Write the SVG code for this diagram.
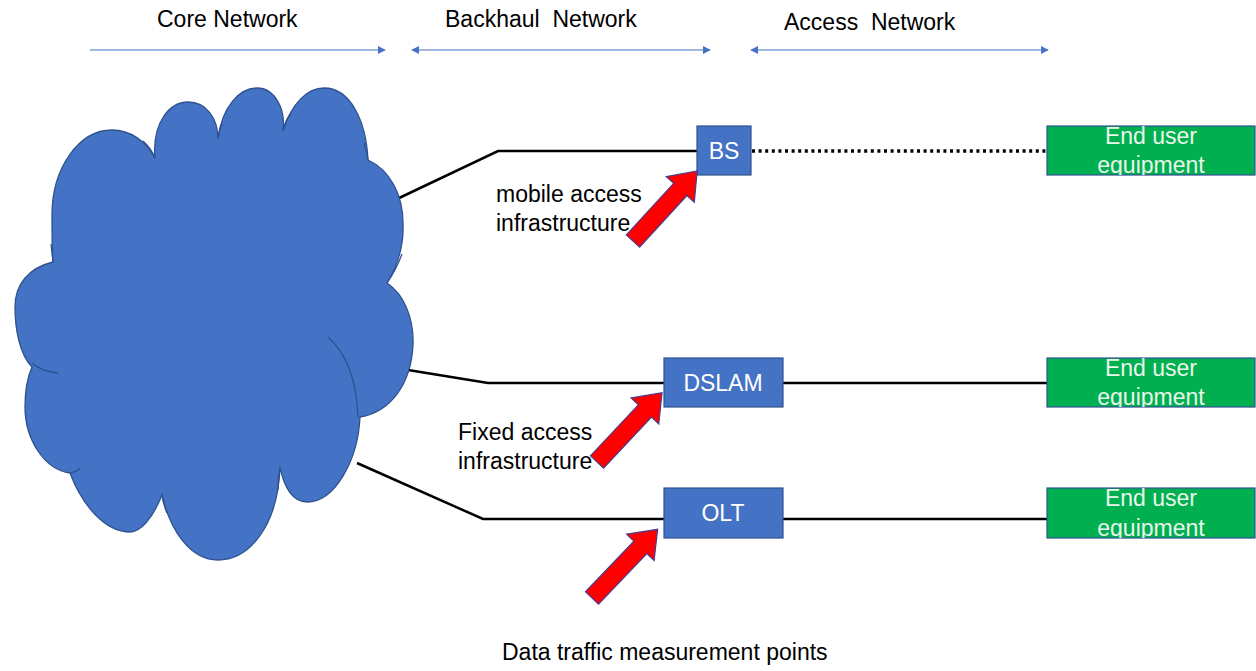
<svg xmlns="http://www.w3.org/2000/svg" width="1256" height="671" viewBox="0 0 1256 671">
  <style>
    text { font-family: "Liberation Sans", Arial, sans-serif; font-size: 23px; fill: #000; }
    .node-blue { fill: #4472C4; stroke: #2F528F; stroke-width: 1.2; }
    .node-green { fill: #00B050; stroke: #2F528F; stroke-width: 1.2; }
    .label-light { fill: #FFFFFF; text-anchor: middle; }
    .label-eq { fill: #EAF6EA; text-anchor: middle; }
    .link { stroke: #000; stroke-width: 2.5; fill: none; }
    .radio { stroke: #000; stroke-width: 3.5; fill: none; stroke-dasharray: 3 3.6; }
    .span { stroke: #4472C4; stroke-width: 1.2; fill: none; }
    .cloud { fill: #4472C4; stroke: #2F528F; stroke-width: 1.3; }
    .fold { fill: none; stroke: #2F528F; stroke-width: 1.3; }
    .probe { fill: #FF0000; stroke: #4A3A8C; stroke-width: 1.2; }
  </style>
  <defs>
    <marker id="tip" viewBox="0 0 10 10" refX="9" refY="5" markerWidth="8" markerHeight="8" markerUnits="userSpaceOnUse" orient="auto-start-reverse">
      <path d="M0,0 L10,5 L0,10 z" fill="#4472C4"/>
    </marker>
    <!-- measurement-point arrow, pointing along +x, tail at origin -->
    <polygon id="probeArrow" points="0,-9 70,-9 70,-19 95,0 70,19 70,9 0,9"/>
    <clipPath id="clipEU1"><rect x="1047" y="126" width="208" height="49"/></clipPath>
    <clipPath id="clipEU2"><rect x="1047" y="358" width="208" height="49"/></clipPath>
    <clipPath id="clipEU3"><rect x="1047" y="488" width="208" height="50"/></clipPath>
  </defs>

  <rect width="1256" height="671" fill="#FFFFFF"/>

  <!-- segment headings and span arrows -->
  <g id="headings">
    <text x="157" y="27">Core Network</text>
    <text x="445" y="27" xml:space="preserve">Backhaul  Network</text>
    <text x="784" y="30" xml:space="preserve">Access  Network</text>
    <line class="span" x1="90" y1="50" x2="385" y2="50" marker-end="url(#tip)"/>
    <line class="span" x1="412" y1="50" x2="710" y2="50" marker-start="url(#tip)" marker-end="url(#tip)"/>
    <line class="span" x1="751" y1="50" x2="1048" y2="50" marker-start="url(#tip)" marker-end="url(#tip)"/>
  </g>

  <!-- links -->
  <g id="connectors">
    <polyline class="link" points="397,199 498,151 697,151"/>
    <line class="radio" x1="752" y1="151" x2="1047" y2="151"/>
    <polyline class="link" points="402,369 488,383 664,383"/>
    <line class="link" x1="783" y1="383" x2="1047" y2="383"/>
    <polyline class="link" points="357,463 483,519 664,519"/>
    <line class="link" x1="783" y1="519" x2="1047" y2="519"/>
  </g>

  <!-- core network cloud -->
  <g id="core-cloud">
    <path class="cloud" d="M53,262
      C52,250 52,230 52,215 C52,168 79,130 112,130 C130,130 146,141 155,158
      C152,122 170,102 188,102 C206,102 218,118 218,139
      C222,106 240,88 257,88 C274,88 286,108 283,131
      C292,102 308,88 324,88 C350,88 366,120 368,160
      C390,170 403,195 403,223 C404,245 398,265 387,283
      C405,295 414,320 413,345 C411,385 390,412 360,417
      C358,460 335,502 307,502 C293,502 284,488 280,467
      C278,525 250,560 218,560 C190,560 170,530 162,495
      C152,520 140,532 130,532 C105,532 82,505 70,473
      C45,470 25,440 25,407 C25,392 27,378 32,367
      C20,355 15,330 15,307 C15,285 28,268 53,262 Z"/>
    <path class="fold" d="M143,141 Q151,148 155,158"/>
    <path class="fold" d="M222,123 Q219,131 218,139"/>
    <path class="fold" d="M291,113 Q285,121 283,131"/>
    <path class="fold" d="M364,143 Q367,151 368,160"/>
    <path class="fold" d="M51,244 Q52,253 53,262"/>
    <path class="fold" d="M402,254 Q396,270 387,283"/>
    <path class="fold" d="M32,363 Q43,372 58,373"/>
    <path class="fold" d="M328,337 Q356,362 358,417"/>
    <path class="fold" d="M70,473 Q76,472 80,468"/>
    <path class="fold" d="M167,513 Q163,504 162,495"/>
    <path class="fold" d="M278,490 Q278,478 280,467"/>
  </g>

  <!-- access nodes -->
  <g id="node-bs">
    <rect class="node-blue" x="697" y="126" width="54" height="49"/>
    <text class="label-light" x="724" y="159">BS</text>
  </g>
  <g id="node-dslam">
    <rect class="node-blue" x="664" y="358" width="119" height="49"/>
    <text class="label-light" x="723" y="391">DSLAM</text>
  </g>
  <g id="node-olt">
    <rect class="node-blue" x="664" y="488" width="119" height="50"/>
    <text class="label-light" x="723" y="521">OLT</text>
  </g>

  <!-- end user equipment -->
  <g id="eu-1">
    <rect class="node-green" x="1047" y="126" width="208" height="49"/>
    <g clip-path="url(#clipEU1)">
      <text class="label-eq" x="1151" y="144">End user</text>
      <text class="label-eq" x="1151" y="173">equipment</text>
    </g>
  </g>
  <g id="eu-2">
    <rect class="node-green" x="1047" y="358" width="208" height="49"/>
    <g clip-path="url(#clipEU2)">
      <text class="label-eq" x="1151" y="376">End user</text>
      <text class="label-eq" x="1151" y="405">equipment</text>
    </g>
  </g>
  <g id="eu-3">
    <rect class="node-green" x="1047" y="488" width="208" height="50"/>
    <g clip-path="url(#clipEU3)">
      <text class="label-eq" x="1151" y="506">End user</text>
      <text class="label-eq" x="1151" y="536">equipment</text>
    </g>
  </g>

  <!-- infrastructure labels -->
  <g id="labels">
    <text x="496" y="202">mobile access</text>
    <text x="496" y="231">infrastructure</text>
    <text x="458" y="440">Fixed access</text>
    <text x="458" y="469">infrastructure</text>
    <text x="502" y="660">Data traffic measurement points</text>
  </g>

  <!-- measurement points -->
  <g id="probes">
    <use href="#probeArrow" class="probe" transform="translate(633,241) rotate(-47.5)"/>
    <use href="#probeArrow" class="probe" transform="translate(597,462) rotate(-46.8)"/>
    <use href="#probeArrow" class="probe" transform="translate(592,598) rotate(-46.3)"/>
  </g>
</svg>
